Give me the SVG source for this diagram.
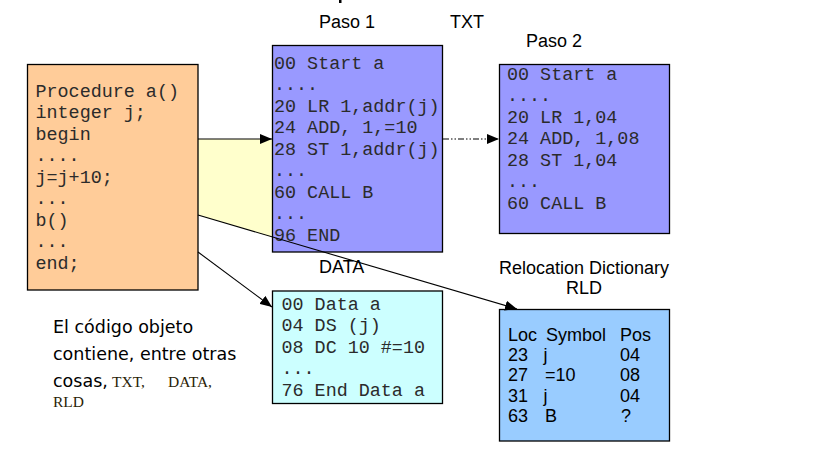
<svg xmlns="http://www.w3.org/2000/svg" width="819" height="460" viewBox="0 0 819 460">
<defs>
<style>
.box{stroke:#000;stroke-width:1.3}
.mono{font-family:"Liberation Mono","Courier New",monospace;font-size:18.4px;fill:#2b2b2b}
.lbl{font-family:"Liberation Sans",Arial,sans-serif;font-size:18px;fill:#000}
.note{font-family:"DejaVu Sans","Liberation Sans",sans-serif;font-size:17.5px;fill:#000}
.nmono{font-family:"Liberation Serif","Times New Roman",serif;font-size:15.5px;fill:#2a2206}
.conn{fill:none;stroke:#000;stroke-width:1.1}
</style>
<marker id="ah" viewBox="0 0 12 10" refX="12" refY="5" markerWidth="12" markerHeight="10" markerUnits="userSpaceOnUse" orient="auto">
<path d="M0,0 L12,5 L0,10 Z" fill="#000"/>
</marker>
</defs>
<rect x="339" y="0" width="2.5" height="3" fill="#000"/>
<polygon points="198,139 272,139 272,237 198,215" fill="#FFFFCC"/>
<g id="labels">
<text class="lbl" x="319" y="27.5">Paso 1</text>
<text class="lbl" x="450" y="27.5">TXT</text>
<text class="lbl" x="526" y="46.5">Paso 2</text>
<text class="lbl" x="319" y="273">DATA</text>
<text class="lbl" x="584" y="273.5" text-anchor="middle">Relocation Dictionary</text>
<text class="lbl" x="584" y="293.5" text-anchor="middle">RLD</text>
</g>
<g id="source">
<rect class="box" x="27.5" y="64.5" width="170.5" height="225.5" fill="#FFCC99"/>
<text class="mono" x="35.5">
<tspan x="35.5" y="96.5">Procedure a()</tspan>
<tspan x="35.5" y="118">integer j;</tspan>
<tspan x="35.5" y="139.5">begin</tspan>
<tspan x="35.5" y="161">....</tspan>
<tspan x="35.5" y="182.5">j=j+10;</tspan>
<tspan x="35.5" y="204">...</tspan>
<tspan x="35.5" y="225.5">b()</tspan>
<tspan x="35.5" y="247">...</tspan>
<tspan x="35.5" y="268.5">end;</tspan>
</text>
</g>
<g id="paso1">
<rect class="box" x="272.5" y="45.5" width="170" height="206.5" fill="#9999FF"/>
<text class="mono">
<tspan x="274" y="68.5">00 Start a</tspan>
<tspan x="274" y="90">....</tspan>
<tspan x="274" y="111.5">20 LR 1,addr(j)</tspan>
<tspan x="274" y="133">24 ADD, 1,=10</tspan>
<tspan x="274" y="154.5">28 ST 1,addr(j)</tspan>
<tspan x="274" y="176">...</tspan>
<tspan x="274" y="197.5">60 CALL B</tspan>
<tspan x="274" y="219">...</tspan>
<tspan x="274" y="240.5">96 END</tspan>
</text>
</g>
<g id="paso2">
<rect class="box" x="499.5" y="64.5" width="170" height="169" fill="#9999FF"/>
<text class="mono">
<tspan x="507" y="79.5">00 Start a</tspan>
<tspan x="507" y="101">....</tspan>
<tspan x="507" y="122.5">20 LR 1,04</tspan>
<tspan x="507" y="144">24 ADD, 1,08</tspan>
<tspan x="507" y="165.5">28 ST 1,04</tspan>
<tspan x="507" y="187">...</tspan>
<tspan x="507" y="208.5">60 CALL B</tspan>
</text>
</g>
<g id="data">
<rect class="box" x="272.5" y="291" width="170" height="112.5" fill="#CCFFFF"/>
<text class="mono">
<tspan x="281.5" y="309.5">00 Data a</tspan>
<tspan x="281.5" y="331">04 DS (j)</tspan>
<tspan x="281.5" y="352.5">08 DC 10 #=10</tspan>
<tspan x="281.5" y="374">...</tspan>
<tspan x="281.5" y="395.5">76 End Data a</tspan>
</text>
</g>
<g id="rld">
<rect class="box" x="499.5" y="309.5" width="170" height="131.5" fill="#99CCFF"/>
<g class="lbl">
<text x="508" y="341">Loc</text><text x="546" y="341">Symbol</text><text x="620" y="341">Pos</text>
<text x="508" y="361">23</text><text x="543.5" y="361">j</text><text x="620" y="361">04</text>
<text x="508" y="381">27</text><text x="545" y="381">=10</text><text x="620" y="381">08</text>
<text x="508" y="401.5">31</text><text x="543.5" y="401.5">j</text><text x="620" y="401.5">04</text>
<text x="508" y="421.5">63</text><text x="545" y="421.5">B</text><text x="621" y="421.5">?</text>
</g>
</g>
<g id="note">
<text class="note" x="53" y="333">El código objeto</text>
<text class="note" x="53" y="360">contiene, entre otras</text>
<text class="note" x="53" y="386.5">cosas,</text>
<text class="nmono" x="112" y="386.5">TXT,</text>
<text class="nmono" x="168" y="386.5">DATA,</text>
<text class="nmono" x="53" y="407">RLD</text>
</g>
<g id="connectors">
<line class="conn" x1="198" y1="139" x2="272" y2="139" marker-end="url(#ah)"/>
<line class="conn" x1="443" y1="139" x2="499" y2="139" stroke-dasharray="6 2 1.5 2 1.5 2" marker-end="url(#ah)"/>
<line class="conn" x1="198" y1="252" x2="272" y2="307" stroke="#333" marker-end="url(#ah)"/>
<line class="conn" x1="198" y1="215" x2="517" y2="309" stroke="#333" marker-end="url(#ah)"/>
</g>
</svg>
